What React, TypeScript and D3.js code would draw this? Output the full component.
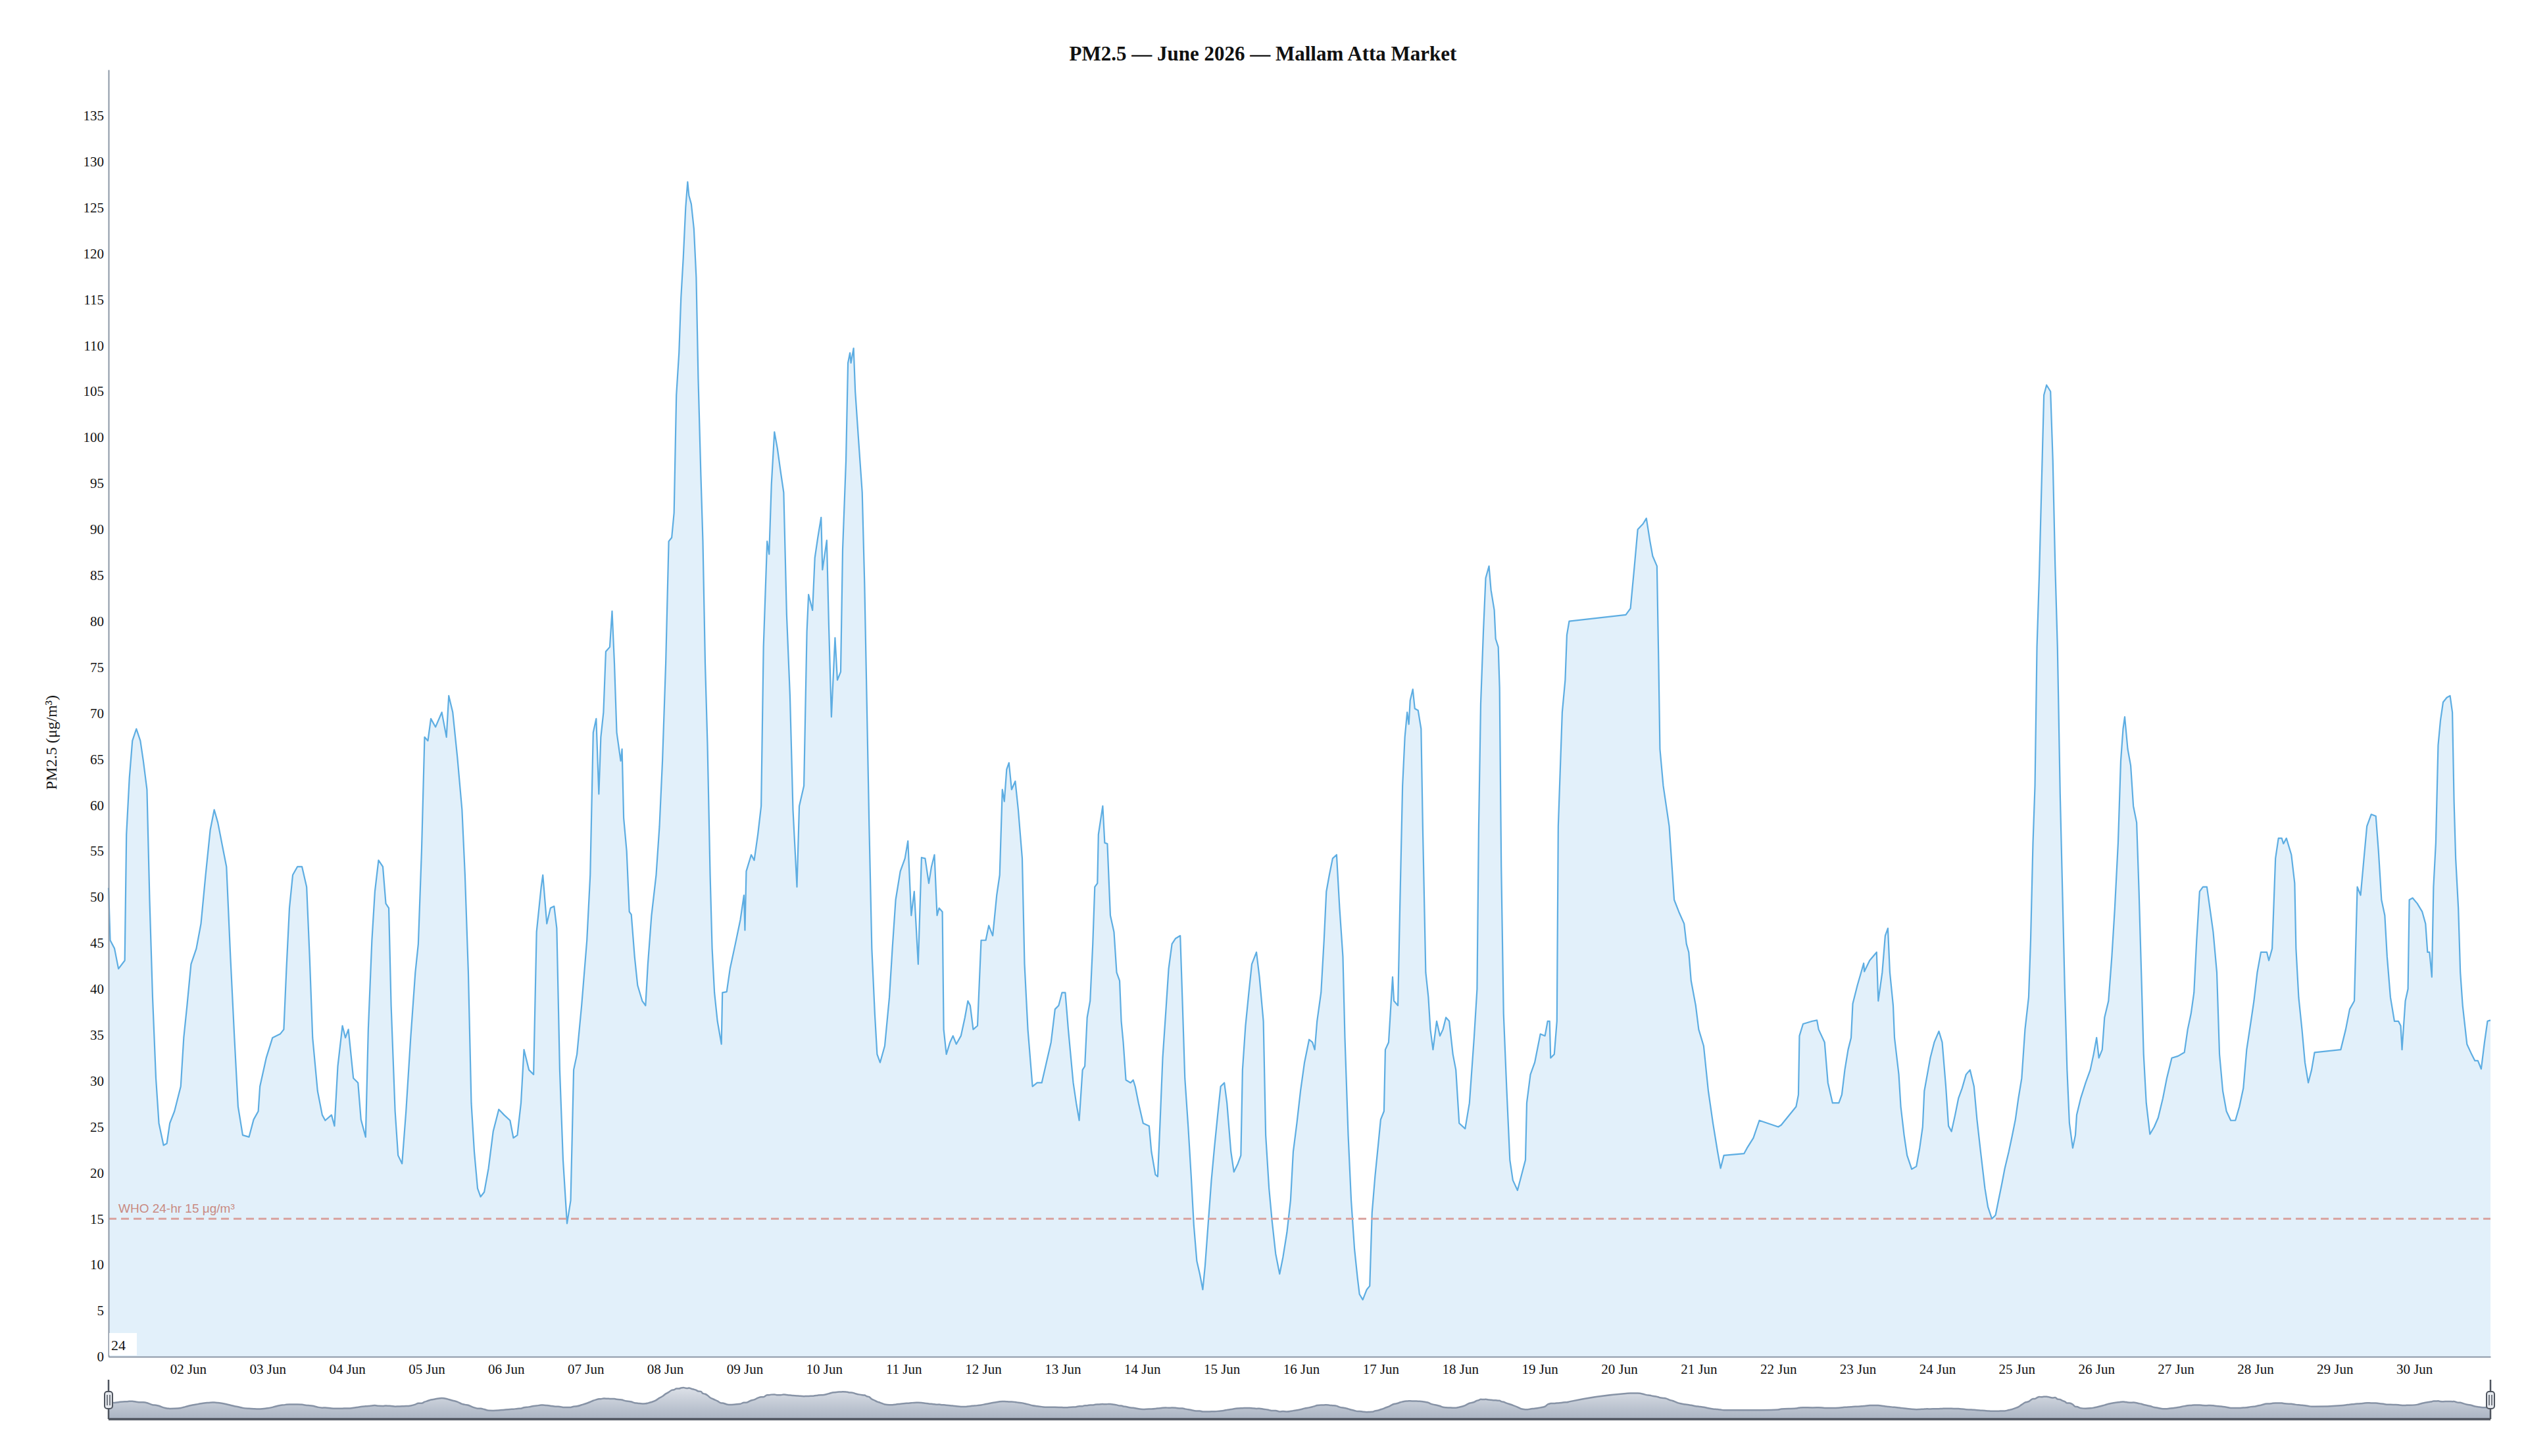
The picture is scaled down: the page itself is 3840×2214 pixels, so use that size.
import React, { useEffect, useRef } from "react";
import * as d3 from "d3";

const chartTitle = "PM2.5 — June 2026 — Mallam Atta Market";
const yAxisName = "PM2.5 (μg/m³)";
const whoLimit = 15;
const whoLabel = "WHO 24-hr 15 μg/m³";
const cornerLabel = "24";
const yTicks = [0, 5, 10, 15, 20, 25, 30, 35, 40, 45, 50, 55, 60, 65, 70, 75, 80, 85, 90, 95, 100, 105, 110, 115, 120, 125, 130, 135];

// readings: [hours after 01 Jun 00:00, PM2.5 µg/m³]
const week1: [number, number][] = [
  [0, 51], [0.5, 45.3], [1.8, 44.4], [3, 42.2], [4.9, 43.1], [5.4, 56.8], [6.3, 63], [7.2, 67], [8.4, 68.3], [9.6, 67],
  [10.5, 64.8], [11.6, 61.7], [12.4, 49.7], [13.3, 39.1], [14.3, 30.3], [15.2, 25.4], [16.6, 23], [17.6, 23.2], [18.5, 25.4],
  [19.9, 26.7], [21.8, 29.4], [22.7, 34.7], [23.7, 38.2], [24.9, 42.7], [26.5, 44.4], [27.9, 47.1], [29.3, 52.4], [30.7, 57.3],
  [31.9, 59.5], [33, 58.1], [34.4, 55.5], [35.6, 53.3], [36.8, 43.5], [38, 34.7], [39.1, 27.2], [40.5, 24.1], [42.4, 23.9],
  [43.8, 25.8], [45.2, 26.7], [45.7, 29.4], [47.6, 32.5], [49.5, 34.7], [51.8, 35.1], [52.9, 35.6], [53.7, 42.2], [54.6, 48.8],
  [55.6, 52.4], [57, 53.3], [58.4, 53.3], [59.8, 51.1], [60.7, 43.5], [61.6, 34.7], [63.1, 28.9], [64.5, 26.3], [65.4, 25.7],
  [67.3, 26.3], [68.2, 25.1], [69.2, 31.6], [70.6, 36], [71.5, 34.7], [72.4, 35.6], [73.9, 30.3], [75.3, 29.8], [76.2, 25.8],
  [77.6, 23.9], [78.4, 35.6], [79.5, 45.3], [80.4, 50.6], [81.5, 54], [82.8, 53.3], [83.7, 49.3], [84.6, 48.8], [85.3, 38.2],
  [86.5, 26.7], [87.4, 21.9], [88.6, 21], [89.8, 26.7], [91.2, 34.7], [92.6, 41.8], [93.5, 44.9], [94.5, 55], [95.4, 67.4],
  [96.4, 67], [97.3, 69.4], [98.7, 68.5], [100.6, 70.1], [102, 67.4], [102.7, 71.9], [103.9, 70.1], [105.3, 65.2], [106.7, 59.5],
  [107.6, 52.4], [108.6, 41.8], [109.5, 27.6], [110.4, 22.3], [111.4, 18.3], [112.3, 17.4], [113.4, 17.9], [114.7, 20.5],
  [116.1, 24.5], [117.8, 26.9], [119.4, 26.3], [121.2, 25.7], [122.2, 23.8], [123.4, 24.1], [124.5, 27.6], [125.4, 33.4],
  [126.9, 31.2], [128.3, 30.7], [129.2, 46.2], [130.6, 51.1], [131.1, 52.4], [132.3, 47.1], [133.4, 48.8], [134.5, 49],
  [135.3, 46.6], [136.2, 31.2], [137.2, 21.4], [138.4, 14.5], [139.5, 17], [140.4, 31.2], [141.4, 32.9], [142.8, 38.2],
];

const week2: [number, number][] = [
  [144.4, 45.3], [145.4, 52.4], [146.3, 67.9], [147.2, 69.4], [148, 61.2], [148.6, 67.4], [149.4, 70.1], [150.1, 76.7],
  [151.3, 77.2], [152, 81.1], [152.7, 75.4], [153.4, 67.9], [154.6, 64.8], [155, 66.1], [155.5, 58.6], [156.4, 55], [157.2, 48.4],
  [157.8, 48.1], [158.8, 43.5], [159.7, 40.4], [161.1, 38.7], [162.1, 38.2], [162.8, 42.7], [163.9, 48], [165.3, 52.4],
  [166.3, 57.7], [167.2, 64.8], [168.2, 75.4], [169.1, 88.7], [170, 89.1], [170.7, 91.8], [171.4, 104.6], [172.2, 109.2],
  [172.8, 115.2], [173.5, 119.6], [174.2, 125], [174.8, 127.8], [175.2, 126.3], [175.9, 125.4], [176.7, 122.7], [177.4, 117.4],
  [178, 106.4], [178.8, 95.8], [179.4, 88.7], [180.1, 75.4], [180.8, 66.5], [181.6, 52.4], [182.2, 44.4], [182.9, 39.6],
  [183.8, 36.5], [185, 34], [185.3, 39.6], [186.6, 39.7], [187.6, 42.2], [189.2, 44.9], [190.7, 47.5], [191.8, 50.2],
  [192.1, 46.4], [192.5, 52.8], [194, 54.6], [194.9, 54], [196, 56.8], [197, 59.9], [197.7, 77.2], [198.8, 88.7], [199.4, 87.3],
  [200.1, 94.9], [201, 100.6], [201.9, 98.8], [202.9, 96.2], [203.8, 94], [204.7, 80.7], [205.7, 71.9], [206.6, 59.5],
  [207.8, 51.1], [208.5, 59.9], [209.9, 62.1], [210.8, 78.9], [211.3, 82.9], [212.5, 81.2], [213.2, 86.9], [214.1, 89.1],
  [215.1, 91.3], [215.5, 85.6], [216.8, 88.8], [217.4, 79.8], [218.2, 69.6], [219.3, 78.2], [220, 73.6], [221, 74.5],
  [221.6, 87.8], [222.6, 97.5], [223.2, 108.1], [223.8, 109.2], [224.1, 108.1], [224.9, 109.7], [225.4, 105], [226.3, 100.2],
  [227.5, 94], [228.2, 84.2], [228.9, 71], [229.6, 57.7], [230.4, 44.4], [231.3, 37.3], [232, 32.9], [232.9, 32], [234.3, 33.8],
  [235.7, 39.1], [236.6, 44.4], [237.6, 49.7], [239, 52.8], [240.4, 54.2], [241.3, 56.1], [242.3, 48], [243.2, 50.6],
  [244.4, 42.7], [245.4, 54.3], [246.5, 54.2], [247.6, 51.5], [248.4, 53.3], [249.3, 54.6], [250.1, 48], [250.7, 48.8],
  [251.7, 48.4], [252.1, 35.6], [252.9, 32.9], [254, 34.2], [254.9, 34.9], [255.9, 34], [257.3, 34.9], [258.5, 36.9],
  [259.4, 38.7], [260.1, 38.2], [261, 35.6], [262.3, 36], [263.4, 45.3], [264.8, 45.3], [265.7, 46.9], [266.9, 45.8],
  [268.1, 50.2], [269, 52.4], [269.8, 61.7], [270.4, 60.4], [271.1, 63.9], [271.8, 64.6], [272.6, 61.7], [273.7, 62.6],
  [274.6, 59.5], [275.8, 54.2], [276.5, 42.7], [277.5, 35.6], [278.9, 29.4], [280.3, 29.8], [281.7, 29.8], [283.1, 32],
  [284.5, 34.2], [285.7, 37.8], [286.8, 38.2], [287.8, 39.6],
];

const week3: [number, number][] = [
  [288.8, 39.6], [289.7, 35.6], [291.2, 29.8], [292.1, 27.6], [293, 25.7], [294, 31.2], [294.7, 31.6], [295.4, 36.9],
  [296.3, 38.7], [297.1, 44.9], [297.7, 51.1], [298.5, 51.5], [298.8, 56.8], [300.1, 59.9], [300.7, 55.9], [301.5, 55.8],
  [302.4, 48], [303.5, 46.2], [304.3, 41.8], [305.2, 40.9], [305.7, 36.5], [306.3, 34.2], [307.1, 30.1], [308.5, 29.8],
  [309.3, 30.1], [309.9, 29.4], [310.9, 27.6], [312.3, 25.4], [314.1, 25.1], [314.8, 22.3], [316, 19.8], [316.7, 19.6],
  [317.4, 25.4], [318.2, 32.5], [319.1, 37.3], [320, 42.2], [321, 44.9], [322.1, 45.5], [323.5, 45.8], [324.2, 38.2],
  [324.9, 30.3], [325.9, 25], [326.8, 19.6], [327.6, 14.3], [328.5, 10.4], [329.4, 9], [330.3, 7.3], [331, 9.9], [332, 14.8],
  [332.9, 19.2], [333.8, 22.7], [334.8, 26.3], [335.7, 29.4], [336.8, 29.8], [337.6, 27.6], [338.8, 22.3], [339.7, 20.1],
  [340.9, 21], [341.8, 21.9], [342.3, 31.2], [343.2, 36], [344.2, 39.6], [345.1, 42.7], [346.5, 44], [347.4, 41.3],
  [348.6, 36.5], [349.3, 24.1], [350.3, 18.3], [351.2, 14.8], [352.3, 11.2], [353.5, 9], [354.5, 10.8], [355.7, 13.5],
  [356.8, 17], [357.6, 22.3], [358.7, 25.4], [359.8, 28.9], [361, 32], [362.4, 34.5], [363.4, 34.2], [364.1, 33.4],
  [364.8, 36.5], [366, 39.6], [366.9, 45.3], [367.6, 50.6], [368.5, 52.4], [369.5, 54.2], [370.7, 54.6], [371.6, 48.8],
  [372.6, 43.5], [373.2, 34.7], [374.2, 24.1], [375.1, 17], [376.1, 11.7], [377, 8.6], [377.6, 6.8], [378.6, 6.2], [379.8, 7.3],
  [380.7, 7.7], [381.4, 15.7], [382.3, 19.6], [383.3, 23.2], [384, 25.8], [385, 26.7], [385.4, 33.4], [386.4, 34.2],
  [387.6, 41.3], [388, 38.7], [389.2, 38.2], [389.8, 48.8], [390.6, 62.1], [391.3, 67.4], [392, 70.1], [392.5, 68.8],
  [392.9, 71.4], [393.7, 72.6], [394.3, 70.5], [395.3, 70.3], [396.2, 68.3], [396.7, 57.7], [397.6, 41.8], [398.4, 39.1],
  [399, 35.6], [399.8, 33.4], [400.9, 36.5], [401.9, 34.9], [402.8, 35.6], [403.7, 36.9], [404.7, 36.5], [405.8, 32.9],
  [406.7, 31.2], [407.7, 25.4], [409.5, 24.8], [410.8, 27.6], [412.2, 34.7], [413.1, 40], [413.6, 57.7], [414.2, 71],
  [415, 78.9], [415.7, 84.7], [416.7, 86], [417.3, 83.4], [418.3, 81.2], [418.7, 78.1], [419.5, 77.2], [419.9, 72.7],
  [420.4, 53.3], [421.1, 37.3], [422, 29.4], [423, 21.4], [423.9, 19.2], [425.3, 18.1], [426.4, 19.6], [427.7, 21.4],
  [428.1, 27.6], [429.2, 30.7], [430.5, 32],
];

const week4: [number, number][] = [
  [432.2, 35.1], [433.6, 34.9], [434.4, 36.5], [435, 36.5], [435.3, 32.5], [436.4, 32.9], [437.2, 36.5], [437.6, 57.7],
  [438.8, 70.1], [439.7, 73.6], [440.2, 78.5], [440.9, 80], [458, 80.7], [459.4, 81.4], [460.6, 86], [461.6, 90],
  [463.2, 90.6], [464.2, 91.2], [465.3, 88.7], [466.1, 87.1], [467.4, 86], [467.9, 75.4], [468.3, 66.1], [469.3, 62.1],
  [470.2, 59.9], [471.1, 57.7], [472.1, 52.4], [472.6, 49.7], [474, 48.4], [475.6, 47.1], [476.3, 44.9], [477, 44],
  [477.7, 40.9], [479.1, 38.2], [480, 35.6], [481.5, 33.8], [482.9, 28.9], [484.3, 25.4], [485.7, 22.3], [486.6, 20.5],
  [487.6, 21.9], [493.7, 22.1], [494.6, 22.7], [496.5, 23.8], [498.3, 25.7], [504, 25], [504.9, 25.2], [509.4, 27.2],
  [510.1, 28.5], [510.4, 34.9], [511.5, 36.2], [514.3, 36.5], [515.7, 36.6], [516.2, 35.6], [518, 34.2], [519, 29.8],
  [520.4, 27.6], [522.3, 27.6], [523.2, 28.5], [524.1, 31.2], [525.1, 33.4], [526, 34.7], [526.5, 38.4], [527.9, 40.4],
  [529.1, 41.9], [529.8, 42.8], [530, 41.9], [531.6, 43.1], [533.7, 44], [534.2, 38.7], [535.4, 41.8], [536.3, 45.8],
  [537.1, 46.6], [537.7, 41.8], [538.7, 38.2], [539.1, 34.7], [540.4, 30.7], [541, 27.2], [542, 24.1], [542.9, 21.9],
  [544.3, 20.4], [545.7, 20.7], [546.7, 22.7], [547.6, 25], [548.1, 28.9], [549, 30.7], [549.9, 32.5], [551.1, 34.2],
  [552.5, 35.4], [553.5, 34.2], [554.6, 29.4], [555.4, 25.1], [556.3, 24.5], [557.4, 26.3], [558.4, 28.1], [559.5, 29.2],
  [560.7, 30.7], [561.9, 31.2], [563.1, 29.4], [564, 25.8], [565.1, 22.3], [566.4, 18.3], [567.3, 16.3], [568.5, 15],
  [569.6, 15.4], [570.6, 17.2], [571.5, 18.8], [572.4, 20.5], [573.6, 22.3],
];

const week5: [number, number][] = [
  [574.6, 24], [575.6, 25.8], [576.5, 28.1], [577.5, 30.3], [578.5, 35.6], [579.6, 39.1], [580.2, 45.3], [580.9, 55.9],
  [581.5, 62.1], [582.1, 77.2], [582.8, 85.1], [583.5, 94.9], [584.2, 104.6], [585, 105.7], [586.2, 105], [586.9, 97.5],
  [587.6, 86], [588.3, 77.2], [589.1, 61.2], [589.8, 50.6], [590.5, 40], [591.2, 31.2], [591.9, 25.4], [592.9, 22.7],
  [593.7, 24.1], [594.1, 26.3], [595.3, 28.1], [596.8, 29.8], [598.2, 31.2], [599.2, 32.9], [600.1, 34.7], [600.8, 32.5],
  [601.8, 33.4], [602.5, 36.9], [603.7, 38.7], [604.7, 43.5], [605.6, 48.8], [606.6, 55.9], [607.4, 64.8], [608.1, 68.3],
  [608.6, 69.6], [609.5, 66.1], [610.4, 64.3], [611.2, 59.9], [612.2, 58.1], [612.9, 50.6], [613.6, 41.8], [614.3, 32.9],
  [615.1, 27.6], [616.2, 24.2], [617.5, 25], [618.7, 26], [620.1, 28.1], [621.3, 30.3], [622.8, 32.5], [624.7, 32.7],
  [626.6, 33.1], [627.6, 35.6], [628.6, 37.3], [629.5, 39.6], [630.3, 45.3], [631.2, 50.6], [632.2, 51.1], [633.4, 51.1],
  [634.3, 48.8], [635.3, 46.2], [636.4, 41.8], [637.2, 32.9], [638.2, 28.9], [639.3, 26.7], [640.6, 25.7], [642, 25.7],
  [643.2, 27.2], [644.4, 29.2], [645.4, 33.4], [646.7, 36.5], [647.6, 38.7], [648.6, 41.8], [649.7, 44], [651.5, 44],
  [652.1, 43.1], [653.1, 44.4], [654.1, 54.2], [655, 56.4], [656, 56.4], [656.5, 55.8], [657.4, 56.4], [658.9, 54.6],
  [659.9, 51.5], [660.3, 44.4], [661.1, 39.1], [662.1, 35.6], [663, 32], [664, 29.8], [665, 31.2], [665.9, 33.1],
  [673.8, 33.4], [675.3, 35.6], [676.5, 37.8], [677.9, 38.7], [678.8, 51.1], [679.8, 50.2], [680.8, 54.2], [681.7, 57.7],
  [683, 59], [684.4, 58.8], [685.2, 55], [686.1, 49.7], [687.1, 48], [687.8, 43.5], [688.8, 39.1], [690, 36.5], [691.2, 36.5],
  [691.9, 36], [692.3, 33.4], [693.3, 38.7], [694.1, 40], [694.5, 49.7], [695.5, 49.9], [696.9, 49.3], [698.4, 48.4],
  [699.4, 47.1], [700, 44], [700.6, 44], [701.3, 41.3], [701.8, 51.1], [702.5, 55.9], [703.2, 66.5], [703.9, 69.2],
  [704.7, 71.2], [705.8, 71.7], [706.8, 71.9], [707.5, 70.1], [708, 60.4], [708.5, 54.2], [709.3, 48.8], [709.9, 41.8],
  [710.6, 38.2], [711.9, 34], [713.3, 32.9], [714.3, 32.2], [715.2, 32.2], [716.2, 31.3], [717.2, 34.2], [718.1, 36.5],
  [719, 36.6],
];

const monthStart = Date.UTC(2026, 5, 1);
const HOUR = 3600 * 1000;

interface Reading {
  h: number;
  t: Date;
  v: number;
}

const App: React.FC = () => {
  const svgRef = useRef<SVGSVGElement | null>(null);
  const width = 3840;
  const height = 2214;

  useEffect(() => {
    drawChart();
  }, []);

  const drawChart = () => {
    if (!svgRef.current) return;
    const svg = d3.select(svgRef.current);
    svg.selectAll("*").remove();

    const serif = "'Liberation Serif', 'Times New Roman', serif";
    const sans = "'Liberation Sans', Arial, sans-serif";

    const readings: Reading[] = [...week1, ...week2, ...week3, ...week4, ...week5].map(([h, v]) => ({
      h,
      t: new Date(monthStart + h * HOUR),
      v,
    }));

    // plot box
    const left = 165;
    const right = 3786;
    const top = 106;
    const bottom = 2063;

    const x = d3
      .scaleUtc()
      .domain(d3.extent(readings, (d) => d.t) as [Date, Date])
      .range([left, right]);
    const y = d3.scaleLinear().domain([0, 140]).range([bottom, top]);

    svg
      .append("text")
      .attr("x", 1920)
      .attr("y", 92)
      .attr("text-anchor", "middle")
      .attr("font-family", serif)
      .attr("font-weight", "bold")
      .attr("font-size", 31)
      .attr("fill", "#111")
      .text(chartTitle);

    // area + line
    const area = d3
      .area<Reading>()
      .x((d) => x(d.t))
      .y0(y(0))
      .y1((d) => y(d.v));
    const line = d3
      .line<Reading>()
      .x((d) => x(d.t))
      .y((d) => y(d.v));

    svg.append("path").datum(readings).attr("d", area).attr("fill", "#5dade2").attr("fill-opacity", 0.18);
    svg
      .append("path")
      .datum(readings)
      .attr("d", line)
      .attr("fill", "none")
      .attr("stroke", "#5dade2")
      .attr("stroke-width", 2.2)
      .attr("stroke-linejoin", "round");

    // WHO guideline
    svg
      .append("line")
      .attr("x1", left)
      .attr("x2", right)
      .attr("y1", y(whoLimit))
      .attr("y2", y(whoLimit))
      .attr("stroke", "#d9a29e")
      .attr("stroke-width", 3)
      .attr("stroke-dasharray", "12,7");
    svg
      .append("text")
      .attr("x", left + 15)
      .attr("y", y(whoLimit) - 9)
      .attr("font-family", sans)
      .attr("font-size", 19)
      .attr("fill", "#c98a82")
      .text(whoLabel);

    // axes
    const yAxis = svg
      .append("g")
      .attr("transform", `translate(${left},0)`)
      .call(d3.axisLeft(y).tickValues(yTicks).tickSize(0).tickSizeOuter(0).tickPadding(7));
    yAxis.select(".domain").attr("stroke", "#8c97a6").attr("stroke-width", 2);
    yAxis.selectAll("text").attr("font-family", serif).attr("font-size", 21).attr("fill", "#111");

    const dayTicks = d3.utcDay.range(new Date(Date.UTC(2026, 5, 2)), new Date(Date.UTC(2026, 5, 30, 12)));
    const xAxis = svg
      .append("g")
      .attr("transform", `translate(0,${bottom})`)
      .call(
        d3
          .axisBottom(x)
          .tickValues(dayTicks)
          .tickFormat((d) => d3.utcFormat("%d %b")(d as Date))
          .tickSize(0)
          .tickSizeOuter(0)
          .tickPadding(11)
      );
    xAxis.select(".domain").attr("stroke", "#8c97a6").attr("stroke-width", 2);
    xAxis.selectAll("text").attr("font-family", serif).attr("font-size", 21).attr("fill", "#111");

    svg
      .append("text")
      .attr("transform", "translate(78,1129) rotate(-90)")
      .attr("text-anchor", "middle")
      .attr("dominant-baseline", "central")
      .attr("font-family", serif)
      .attr("font-size", 24)
      .attr("fill", "#111")
      .text(yAxisName);

    // corner label
    svg.append("rect").attr("x", left + 1).attr("y", 2027).attr("width", 42).attr("height", 34).attr("fill", "#fff");
    svg
      .append("text")
      .attr("x", left + 4)
      .attr("y", 2053)
      .attr("font-family", serif)
      .attr("font-size", 22)
      .attr("fill", "#111")
      .text(cornerLabel);

    // data zoom slider with a smoothed preview of the series
    const sTop = 2098;
    const sBottom = 2158;
    const preview = readings.map((p) => {
      const near = readings.filter((q) => Math.abs(q.h - p.h) <= 6);
      return { h: p.h, t: p.t, v: d3.mean(near, (q) => q.v) ?? p.v } as Reading;
    });
    const ys = d3
      .scaleLinear()
      .domain([0, d3.max(preview, (d) => d.v) as number])
      .range([sBottom - 4, sTop + 12]);

    const defs = svg.append("defs");
    const grad = defs
      .append("linearGradient")
      .attr("id", "shadowFill")
      .attr("x1", 0)
      .attr("y1", 0)
      .attr("x2", 0)
      .attr("y2", 1);
    grad.append("stop").attr("offset", "0%").attr("stop-color", "#dde1e8");
    grad.append("stop").attr("offset", "100%").attr("stop-color", "#a9b3c2");

    svg
      .append("path")
      .datum(preview)
      .attr(
        "d",
        d3
          .area<Reading>()
          .x((d) => x(d.t))
          .y0(sBottom)
          .y1((d) => ys(d.v))
          .curve(d3.curveMonotoneX)
      )
      .attr("fill", "url(#shadowFill)");
    svg
      .append("path")
      .datum(preview)
      .attr(
        "d",
        d3
          .line<Reading>()
          .x((d) => x(d.t))
          .y((d) => ys(d.v))
          .curve(d3.curveMonotoneX)
      )
      .attr("fill", "none")
      .attr("stroke", "#8793a6")
      .attr("stroke-width", 2.5);

    svg
      .append("line")
      .attr("x1", left)
      .attr("x2", right)
      .attr("y1", sBottom)
      .attr("y2", sBottom)
      .attr("stroke", "#4f555f")
      .attr("stroke-width", 3.5);

    [left, right].forEach((hx) => {
      const g = svg.append("g");
      g.append("line")
        .attr("x1", hx)
        .attr("x2", hx)
        .attr("y1", sTop)
        .attr("y2", sBottom)
        .attr("stroke", "#4f555f")
        .attr("stroke-width", 2.5);
      g.append("rect")
        .attr("x", hx - 6)
        .attr("y", 2116)
        .attr("width", 12)
        .attr("height", 26)
        .attr("rx", 4)
        .attr("fill", "#e6e9ee")
        .attr("stroke", "#4f555f")
        .attr("stroke-width", 2);
      [-2, 2].forEach((dx) =>
        g
          .append("line")
          .attr("x1", hx + dx)
          .attr("x2", hx + dx)
          .attr("y1", 2121)
          .attr("y2", 2137)
          .attr("stroke", "#4f555f")
          .attr("stroke-width", 1.5)
      );
    });
  };

  return (
    <svg
      ref={svgRef}
      width={width}
      height={height}
      style={{ position: "absolute", left: 0, top: 0, display: "block", background: "#fff" }}
    />
  );
};

export default App;
